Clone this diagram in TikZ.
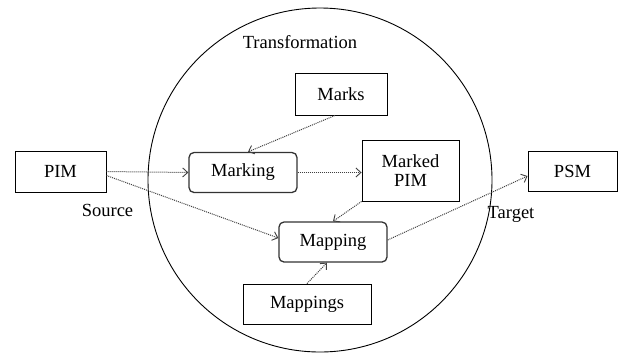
\documentclass[tikz,border=0pt]{standalone}
\usepackage{fontspec}
\setmainfont{LiberationSerif}[Extension=.ttf, UprightFont=*-Regular]
\usetikzlibrary{arrows.meta}
\begin{document}
\begin{tikzpicture}[x=1pt,y=-1pt,
  font=\fontsize{18.5}{20}\selectfont,
  box/.style={draw=black, line width=0.9pt, minimum width=#1, inner sep=0pt, align=center},
  box/.default=90pt,
  roundbox/.style={draw=black!80, line width=1.3pt, rounded corners=5pt, inner sep=0pt,
    minimum width=108pt, minimum height=40pt},
  flow/.style={black!75, line width=1pt, densely dotted,
    -{Straight Barb[length=5pt,width=9pt,line width=0.9pt]}}]
  \useasboundingbox (0,0) rectangle (618,354);

  % Transformation boundary
  \draw[line width=0.9pt] (320,180) circle[radius=172];
  \node (trans) at (300,42) {Transformation};

  % Models and artefacts
  \node[box=91pt, minimum height=41pt] (pim) at (60.5,171.5) {PIM};
  \node[box=92pt, minimum height=42pt] (marks) at (341,94) {Marks};
  \node[box=97pt, minimum height=61pt] (mpim) at (410.5,170.5) {Marked\\[-1pt]PIM};
  \node[box=89pt, minimum height=40pt] (psm) at (572.5,171) {PSM};
  \node[box=128pt, minimum height=40pt] (maps) at (307,304) {Mappings};

  % Transformation steps
  \node[roundbox] (marking) at (243,172.5) {Marking};
  \node[roundbox] (mapping) at (333,242) {Mapping};

  % Side labels
  \node (src) at (107.5,210) {Source};
  \node (tgt) at (511,214) {Target};

  % Flows
  \draw[flow] (pim.east) -- (marking.west);
  \draw[flow] ([yshift=-4pt]pim.east) -- ([yshift=4pt]mapping.west);
  \draw[flow] ([xshift=-6pt]marks.south) -- ([xshift=5pt]marking.north);
  \draw[flow] (marking.east) -- ([yshift=-2pt]mpim.west);
  \draw[flow] (mpim.south west) -- (mapping.north);
  \draw[flow] (maps.north) -- ([xshift=-6pt]mapping.south);
  \draw[flow] ([yshift=2pt]mapping.east) -- ([yshift=-5pt]psm.west);
\end{tikzpicture}
\end{document}
